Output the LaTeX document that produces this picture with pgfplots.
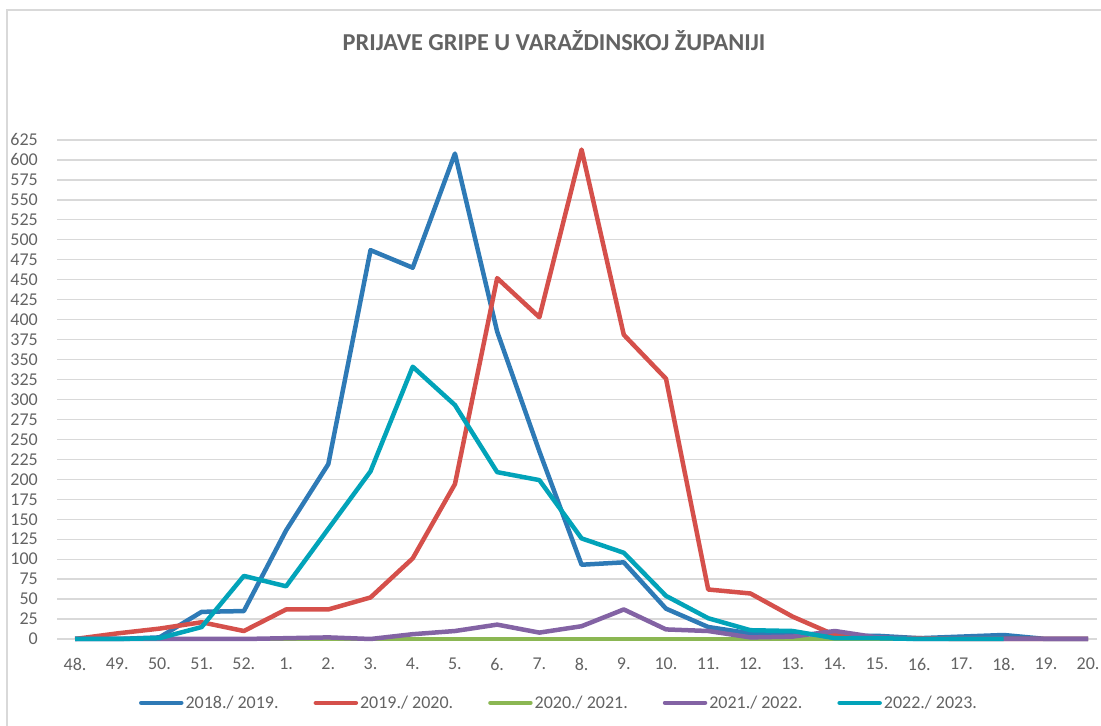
\documentclass[border=0pt]{standalone}
\usepackage{fontspec}
\setmainfont{Carlito}
\usepackage{pgfplots}
\usepackage{pgfplotstable}
\pgfplotsset{compat=1.18}
\definecolor{cblue}{HTML}{2E7AB6}
\definecolor{cred}{HTML}{D5504B}
\definecolor{cgreen}{HTML}{8BB753}
\definecolor{cpurple}{HTML}{8363A4}
\definecolor{ccyan}{HTML}{02A3B9}
\definecolor{gridc}{HTML}{D9D9D9}
\definecolor{txt}{HTML}{636363}

\pgfplotstableread{
i blue red green purple cyan
0 0 0 0 0 0
1 0 7 0 0 0
2 2 13 0 0 1
3 34 21 0 0 15
4 35 10 0 0 79
5 136 37 0 1 66
6 219 37 0 2 138
7 487 52 0 0 210
8 465 101 0 6 341
9 608 194 0 10 293
10 385 452 0 18 209
11 235 403 0 8 199
12 93 613 0 16 126
13 96 381 0 37 108
14 38 326 0 12 54
15 15 62 0 10 26
16 7 57 0 2 11
17 8 28 0 3 10
18 3 5 0 10 1
19 4 1 0 2 1
20 1 1 0 0 0
21 3 0 0 0 0
22 5 0 0 0 0
23 0 0 0 0 nan
24 0 0 0 0 nan
}\data

\begin{document}
\begin{tikzpicture}[x=1bp,y=1bp]
\path[use as bounding box] (0,0) rectangle (1101,726);
\draw[gridc, line width=1.5bp] (7,0) -- (7,716) -- (1101,716);
\node[text=txt, font=\fontsize{24.3bp}{28bp}\selectfont\bfseries, anchor=base, inner sep=0pt] at (554,675) {PRIJAVE GRIPE U VARAŽDINSKOJ ŽUPANIJI};
\begin{axis}[
  at={(57bp,87bp)}, anchor=south west,
  scale only axis, width=1040bp, height=499bp,
  xmin=-0.427, xmax=24.21, ymin=0, ymax=625,
  clip=false,
  axis line style={draw=none},
  major tick length=0pt,
  ytick={0,25,...,625},
  xtick={0,...,24},
  xticklabels={48.,49.,50.,51.,52.,1.,2.,3.,4.,5.,6.,7.,8.,9.,10.,11.,12.,13.,14.,15.,16.,17.,18.,19.,20.},
  ymajorgrids,
  grid style={draw=gridc, line width=1.3bp},
  extra y ticks={0},
  extra y tick labels={},
  extra y tick style={grid style={draw=gridc, line width=2.5bp}},
  /pgf/number format/assume math mode=true,
  tick label style={font=\fontsize{18bp}{20bp}\selectfont, text=txt, inner sep=0pt},
  yticklabel style={anchor=east, xshift=-19bp},
  xticklabel style={anchor=north, yshift=-19bp},
  every axis plot/.append style={line width=4.5bp, line join=round, no markers},
  legend columns=5,
  legend image code/.code={\draw[#1, line cap=round] (0bp,0bp) -- (40bp,0bp);},
  legend style={draw=none, fill=none, at={(0.4827,-0.128)}, anchor=center,
    font=\fontsize{18bp}{20bp}\selectfont, text=txt,
    /tikz/every even column/.append style={column sep=33bp},
    nodes={inner sep=2bp}},
]
\addplot[cblue] table[x=i, y=blue] {\data};
\addlegendentry{2018./ 2019.}
\addplot[cred] table[x=i, y=red] {\data};
\addlegendentry{2019./ 2020.}
\addplot[cgreen] table[x=i, y=green] {\data};
\addlegendentry{2020./ 2021.}
\addplot[cpurple] table[x=i, y=purple] {\data};
\addlegendentry{2021./ 2022.}
\addplot[ccyan] table[x=i, y=cyan] {\data};
\addlegendentry{2022./ 2023.}
\end{axis}
\end{tikzpicture}
\end{document}
